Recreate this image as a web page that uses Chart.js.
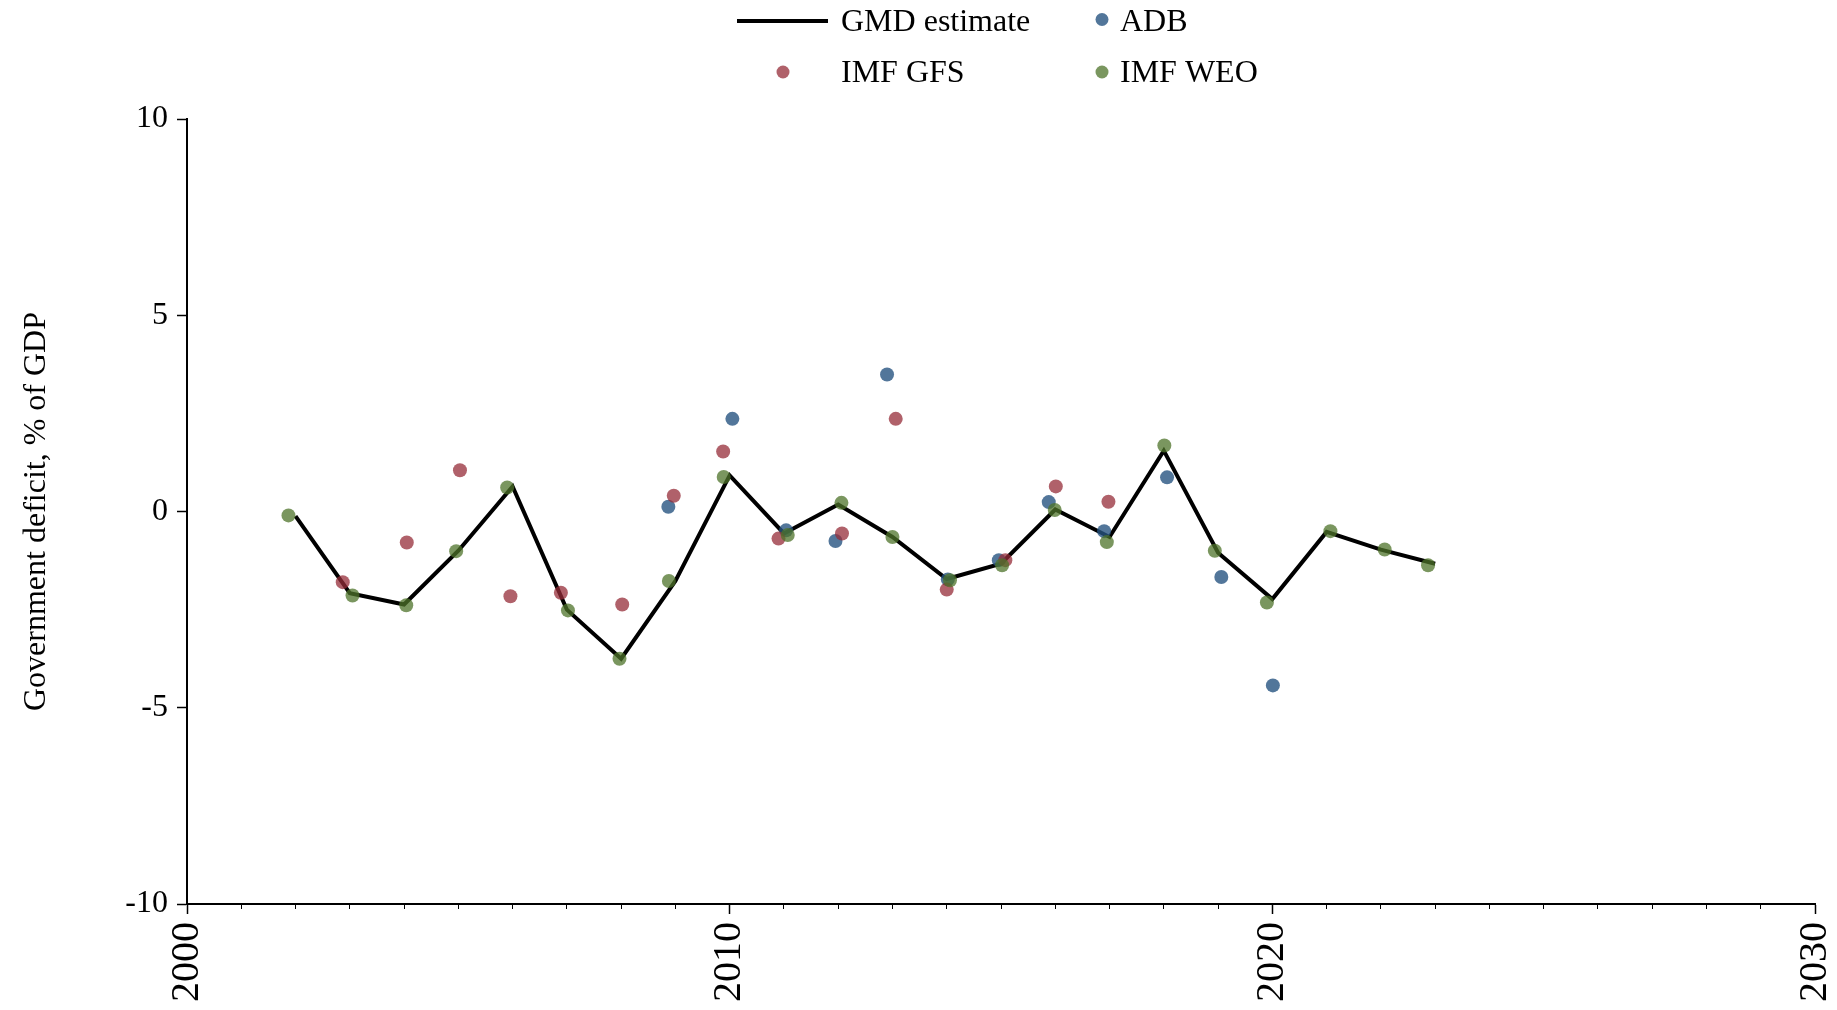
<!DOCTYPE html>
<html>
<head>
<meta charset="utf-8">
<script src="https://cdn.jsdelivr.net/npm/chart.js@4/dist/chart.umd.min.js"></script>
<style>
  html, body { margin: 0; padding: 0; background: #fff; }
  #wrap { width: 1837px; height: 1010px; position: relative; }
</style>
</head>
<body>
<div id="wrap"><canvas id="deficitChart"></canvas></div>
<script>
// values (x positions of the dots are slightly jittered around the year)
const gmdYears = [2002, 2003, 2004, 2005, 2006, 2007, 2008, 2009, 2010, 2011, 2012,
                  2013, 2014, 2015, 2016, 2017, 2018, 2019, 2020, 2021, 2022, 2023];
const gmdValues = [-0.12, -2.08, -2.37, -1.0, 0.64, -2.5, -3.75, -1.77, 0.92, -0.56, 0.18,
                   -0.65, -1.72, -1.33, 0.05, -0.65, 1.55, -1.05, -2.23, -0.52, -0.97, -1.33];

const adbYears = [2008.87, 2010.05, 2011.04, 2011.95, 2012.90, 2014.02, 2014.96, 2015.88,
                  2016.90, 2018.06, 2019.06, 2020.01];
const adbValues = [0.12, 2.36, -0.48, -0.75, 3.49, -1.73, -1.24, 0.24, -0.50, 0.87, -1.67, -4.43];

const gfsYears = [2002.87, 2004.05, 2005.03, 2005.96, 2006.89, 2008.02, 2008.97, 2009.88,
                  2010.90, 2012.07, 2013.06, 2014.00, 2015.08, 2016.01, 2016.98];
const gfsValues = [-1.80, -0.79, 1.05, -2.16, -2.07, -2.37, 0.40, 1.53, -0.69, -0.56, 2.36,
                   -1.99, -1.24, 0.64, 0.25];

const weoYears = [2001.87, 2003.05, 2004.04, 2004.96, 2005.90, 2007.02, 2007.97, 2008.88,
                  2009.89, 2011.07, 2012.06, 2013.00, 2014.06, 2015.02, 2015.99, 2016.95,
                  2018.01, 2018.94, 2019.90, 2021.07, 2022.07, 2022.87];
const weoValues = [-0.10, -2.14, -2.39, -1.01, 0.61, -2.52, -3.75, -1.77, 0.88, -0.60, 0.22,
                   -0.65, -1.75, -1.37, 0.04, -0.78, 1.68, -1.00, -2.32, -0.50, -0.97, -1.37];

const xTicks = [2000, 2010, 2020, 2030];
const yTicks = [-10, -5, 0, 5, 10];

const serif = '"Liberation Serif", "Times New Roman", serif';

const toPoints = (xs, ys) => xs.map((x, i) => ({ x: x, y: ys[i] }));


// ======================
// LEGEND (2 x 2 grid above the plot)
// ======================

const legendSlots = [
  { mark: 'line', x1: 737, x2: 828, y: 21, textX: 841, textY: 23 },
  { mark: 'dot', x: 1102, y: 19.5, textX: 1120, textY: 23 },
  { mark: 'dot', x: 783, y: 72, textX: 841, textY: 74 },
  { mark: 'dot', x: 1102, y: 72, textX: 1120, textY: 74 }
];

const legendGrid = {
  id: 'legendGrid',
  afterDraw(chart) {
    const ctx = chart.ctx;
    ctx.save();
    ctx.font = '32px ' + serif;
    ctx.textBaseline = 'middle';
    chart.data.datasets.forEach((ds, i) => {
      const slot = legendSlots[i];
      if (slot.mark === 'line') {
        ctx.strokeStyle = ds.borderColor;
        ctx.lineWidth = ds.borderWidth;
        ctx.beginPath();
        ctx.moveTo(slot.x1, slot.y);
        ctx.lineTo(slot.x2, slot.y);
        ctx.stroke();
      } else {
        ctx.fillStyle = ds.backgroundColor;
        ctx.beginPath();
        ctx.arc(slot.x, slot.y, ds.pointRadius - 0.5, 0, Math.PI * 2);
        ctx.fill();
      }
      ctx.fillStyle = '#000';
      ctx.fillText(ds.label, slot.textX, slot.textY);
    });
    ctx.restore();
  }
};


// ======================
// CHART
// ======================

new Chart(
  document.getElementById('deficitChart'),
  {
    type: 'scatter',

    data: {
      datasets: [
        {
          label: 'GMD estimate',
          data: toPoints(gmdYears, gmdValues),
          showLine: true,
          borderColor: '#000',
          borderWidth: 4,
          pointRadius: 0,
          order: 3
        },
        {
          label: 'ADB',
          data: toPoints(adbYears, adbValues),
          backgroundColor: 'rgba(39,84,129,0.8)',
          borderWidth: 0,
          pointRadius: 7,
          order: 2
        },
        {
          label: 'IMF GFS',
          data: toPoints(gfsYears, gfsValues),
          backgroundColor: 'rgba(150,44,56,0.75)',
          borderWidth: 0,
          pointRadius: 7,
          order: 1
        },
        {
          label: 'IMF WEO',
          data: toPoints(weoYears, weoValues),
          backgroundColor: 'rgba(78,115,42,0.75)',
          borderWidth: 0,
          pointRadius: 7,
          order: 0
        }
      ]
    },

    options: {
      responsive: true,
      maintainAspectRatio: false,
      animation: false,
      layout: { padding: { top: 119, right: 22, left: 0, bottom: 0 } },
      plugins: {
        legend: { display: false },
        tooltip: { enabled: false }
      },
      scales: {
        x: {
          type: 'linear',
          position: 'bottom',
          min: xTicks[0],
          max: xTicks[xTicks.length - 1],
          afterBuildTicks: scale => { scale.ticks = xTicks.map(v => ({ value: v })); },
          afterFit: scale => { scale.height = 106; scale.paddingLeft = 0; scale.paddingRight = 0; },
          border: { display: true, color: '#000', width: 2 },
          grid: { drawOnChartArea: false, drawTicks: true, tickLength: 10, tickColor: '#000', tickWidth: 1.5 },
          ticks: {
            color: '#000',
            font: { family: serif, size: 40 },
            maxRotation: 90,
            minRotation: 90,
            padding: 8,
            callback: v => String(v)
          }
        },
        xMinor: {
          type: 'linear',
          axis: 'x',
          position: { y: -10 },
          min: xTicks[0],
          max: xTicks[xTicks.length - 1],
          border: { display: false },
          grid: { drawOnChartArea: false, drawTicks: true, tickLength: 5, tickColor: '#000', tickWidth: 1 },
          ticks: { display: false, stepSize: 1 }
        },
        y: {
          min: yTicks[0],
          max: yTicks[yTicks.length - 1],
          afterBuildTicks: scale => { scale.ticks = yTicks.map(v => ({ value: v })); },
          afterFit: scale => { scale.width = 187; scale.paddingTop = 0; scale.paddingBottom = 0; },
          border: { display: true, color: '#000', width: 2 },
          grid: { drawOnChartArea: false, drawTicks: true, tickLength: 10, tickColor: '#000', tickWidth: 1.5 },
          ticks: {
            color: '#000',
            font: { family: serif, size: 32 },
            padding: 9,
            callback: v => String(v)
          },
          title: {
            display: true,
            text: 'Government deficit, % of GDP',
            color: '#000',
            font: { family: serif, size: 32 },
            padding: { top: 17, bottom: 0 }
          }
        }
      }
    },

    plugins: [legendGrid]
  }
);
</script>
</body>
</html>
